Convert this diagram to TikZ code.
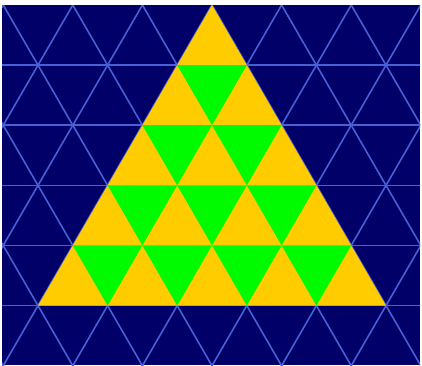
\documentclass[tikz,border=0pt]{standalone}
\definecolor{navy}{RGB}{0,0,104}
\definecolor{gridc}{RGB}{72,96,214}
\definecolor{yel}{RGB}{255,204,0}
\definecolor{grn}{RGB}{0,250,0}
\tikzset{gridline/.style={draw=gridc,line width=1.6pt},
  uptri/.style={fill=yel},
  downtri/.style={fill=grn}}
\begin{document}
\begin{tikzpicture}[x=1pt,y=-1pt]
\useasboundingbox (0,0) rectangle (422,365);
\fill[white] (0,0) rectangle (422,365);
\begin{scope}
\clip (2,5) rectangle (420,365);
\fill[navy] (2,5) rectangle (420,365);
\foreach \k in {1,...,5} \draw[gridline] (0,{5+60.12*\k}) -- (422,{5+60.12*\k});
\foreach \m in {-8,...,8} {
  \draw[gridline] ({72.8+69.6*\m-34.8*2},{5-120.24}) -- ({72.8+69.6*\m+34.8*8},{5+60.12*8});
  \draw[gridline] ({72.8+69.6*\m+34.8*2},{5-120.24}) -- ({72.8+69.6*\m-34.8*8},{5+60.12*8});
}
\end{scope}
% big triangle
\fill[uptri] (212,5) -- (386,305.6) -- (38,305.6) -- cycle;
% green down triangles
\foreach \r in {1,...,4} {
  \foreach \j in {1,...,\r} {
    \pgfmathsetmacro{\xa}{212-34.8*\r+69.6*(\j-1)}
    \pgfmathsetmacro{\ya}{5+60.12*\r}
    \pgfmathsetmacro{\yb}{5+60.12*(\r+1)}
    \fill[downtri] (\xa,\ya) -- ({\xa+69.6},\ya) -- ({\xa+34.8},\yb) -- cycle;
  }
}
\end{tikzpicture}
\end{document}
